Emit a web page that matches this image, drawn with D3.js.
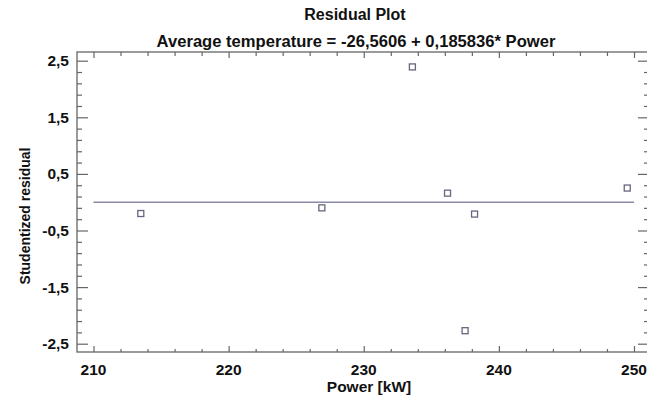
<!DOCTYPE html>
<html>
<head>
<meta charset="utf-8">
<script src="https://cdn.jsdelivr.net/npm/d3@7"></script>
<style>
  body { margin: 0; background: #fff; }
  text { font-family: "Liberation Sans", Arial, sans-serif; font-weight: bold; fill: #111; }
</style>
</head>
<body>
<div id="chart"></div>
<script>
// power values [kW] and studentized residuals
var power = [213.5, 226.9, 233.6, 236.2, 237.5, 238.2, 249.5];
var residual = [-0.20, -0.10, 2.39, 0.16, -2.27, -0.21, 0.25];

var xMajor = [210, 220, 230, 240, 250];
var yMajor = [-2.5, -1.5, -0.5, 0.5, 1.5, 2.5];

var title = "Residual Plot";
var subtitle = "Average temperature = -26,5606 + 0,185836* Power";

var W = 647, H = 397;
var frame = {left: 77, right: 648, top: 52, bottom: 352};

var x = d3.scaleLinear().domain([210, 250]).range([93.5, 634]);
var y = d3.scaleLinear().domain([-2.5, 2.5]).range([343.7, 60.7]);

var xMinor = d3.range(204, 254, 2).filter(function (v) { return v % 10 !== 0; });
var yMinor = d3.range(-2.9, 2.95, 0.2).map(function (v) { return Math.round(v * 10) / 10; })
    .filter(function (v) { return Math.abs(v * 10) % 10 !== 5; });
xMinor = xMinor.filter(function (v) { return x(v) > frame.left && x(v) < frame.right; });
yMinor = yMinor.filter(function (v) { return y(v) > frame.top && y(v) < frame.bottom; });

var fmt = d3.formatLocale({decimal: ",", thousands: ".", grouping: [3], currency: ["", ""], minus: "-"}).format(".1f");

var svg = d3.select("#chart").append("svg")
    .attr("width", W)
    .attr("height", H);

var axisColor = "#666";

function styleAxis(g) {
    g.select(".domain").remove();
    g.selectAll(".tick line").attr("stroke", axisColor).attr("stroke-width", 1.2);
    g.selectAll(".tick text").remove();
}

// bottom
svg.append("g").attr("transform", "translate(0," + frame.bottom + ")")
    .call(d3.axisTop(x).tickValues(xMajor).tickSize(6)).call(styleAxis);
svg.append("g").attr("transform", "translate(0," + frame.bottom + ")")
    .call(d3.axisTop(x).tickValues(xMinor).tickSize(3)).call(styleAxis);
// top
svg.append("g").attr("transform", "translate(0," + frame.top + ")")
    .call(d3.axisBottom(x).tickValues(xMajor).tickSize(6)).call(styleAxis);
svg.append("g").attr("transform", "translate(0," + frame.top + ")")
    .call(d3.axisBottom(x).tickValues(xMinor).tickSize(4)).call(styleAxis);
// left
svg.append("g").attr("transform", "translate(" + frame.left + ",0)")
    .call(d3.axisRight(y).tickValues(yMajor).tickSize(11)).call(styleAxis);
svg.append("g").attr("transform", "translate(" + frame.left + ",0)")
    .call(d3.axisRight(y).tickValues(yMinor).tickSize(5)).call(styleAxis);
// right
svg.append("g").attr("transform", "translate(" + frame.right + ",0)")
    .call(d3.axisLeft(y).tickValues(yMajor).tickSize(10)).call(styleAxis);
svg.append("g").attr("transform", "translate(" + frame.right + ",0)")
    .call(d3.axisLeft(y).tickValues(yMinor).tickSize(4)).call(styleAxis);

// frame
svg.append("rect")
    .attr("x", frame.left)
    .attr("y", frame.top)
    .attr("width", frame.right - frame.left)
    .attr("height", frame.bottom - frame.top)
    .attr("fill", "none")
    .attr("stroke", axisColor)
    .attr("stroke-width", 1.3);

// tick labels
svg.selectAll(".xlab").data(xMajor).enter().append("text")
    .attr("class", "xlab")
    .attr("x", function (d) { return x(d); })
    .attr("y", 375)
    .attr("text-anchor", "middle")
    .style("font-size", "15.5px")
    .text(function (d) { return d; });

svg.selectAll(".ylab").data(yMajor).enter().append("text")
    .attr("class", "ylab")
    .attr("x", 69)
    .attr("y", function (d) { return y(d) + 5.5; })
    .attr("text-anchor", "end")
    .style("font-size", "15.5px")
    .text(function (d) { return fmt(d); });

// zero line
svg.append("line")
    .attr("x1", x(210))
    .attr("x2", x(250))
    .attr("y1", y(0))
    .attr("y2", y(0))
    .attr("stroke", "#8a8aa8")
    .attr("stroke-width", 1.6);

// points
var s = 6;
svg.selectAll(".pt").data(power).enter().append("rect")
    .attr("class", "pt")
    .attr("x", function (d) { return x(d) - s / 2; })
    .attr("y", function (d, i) { return y(residual[i]) - s / 2; })
    .attr("width", s)
    .attr("height", s)
    .attr("fill", "#fff")
    .attr("stroke", "#66667e")
    .attr("stroke-width", 1.3);

// titles
svg.append("text")
    .attr("x", 355)
    .attr("y", 20)
    .attr("text-anchor", "middle")
    .style("font-size", "16px")
    .text(title);

svg.append("text")
    .attr("x", 356)
    .attr("y", 47)
    .attr("text-anchor", "middle")
    .style("font-size", "16.6px")
    .text(subtitle);

svg.append("text")
    .attr("x", 369)
    .attr("y", 392)
    .attr("text-anchor", "middle")
    .style("font-size", "15.5px")
    .text("Power [kW]");

svg.append("text")
    .attr("transform", "translate(30,216) rotate(-90)")
    .attr("text-anchor", "middle")
    .style("font-size", "14px")
    .text("Studentized residual");
</script>
</body>
</html>
